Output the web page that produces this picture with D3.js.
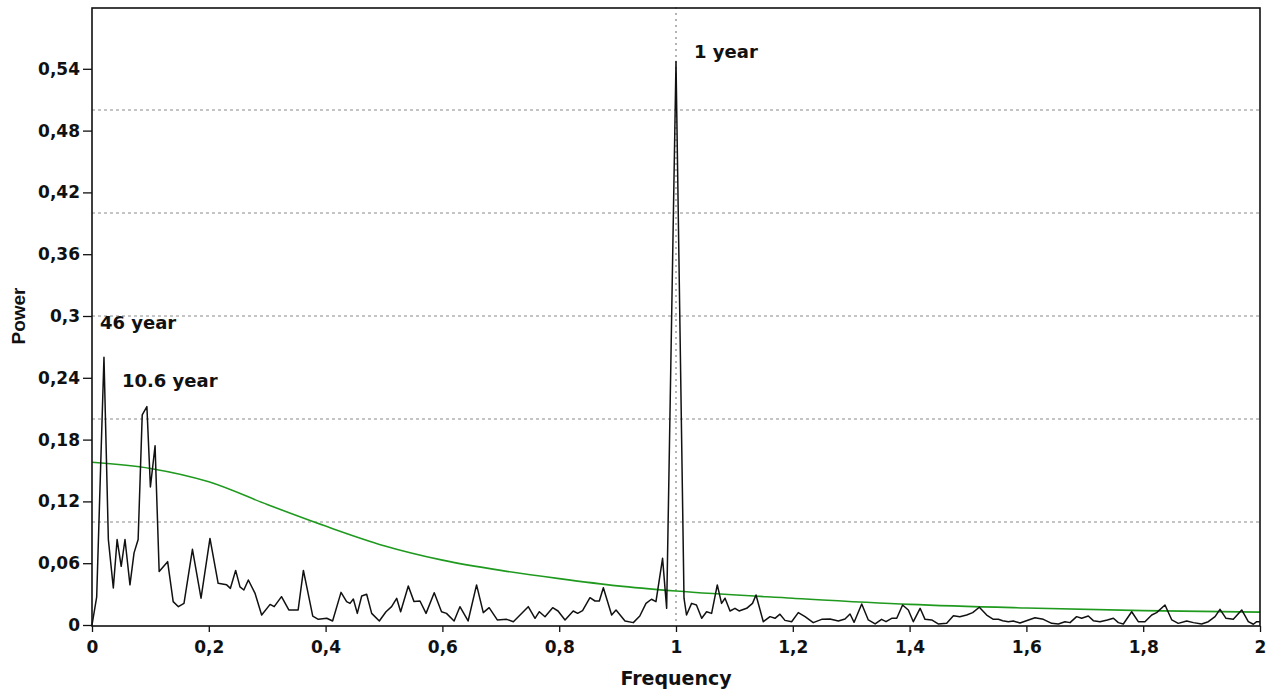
<!DOCTYPE html>
<html>
<head>
<meta charset="utf-8">
<script src="https://cdn.jsdelivr.net/npm/d3@7"></script>
<style>
  body { margin: 0; background: #fff; }
  text { font-family: "DejaVu Sans", sans-serif; font-weight: bold; fill: #111; }
</style>
</head>
<body>
<div id="chart"></div>
<script>
// periodogram (frequency in cycles per year)
const freq = [
  0, 0.008, 0.0205, 0.028, 0.0365, 0.043, 0.050, 0.0565, 0.065, 0.072,
  0.079, 0.086, 0.094, 0.100, 0.108, 0.115, 0.1295, 0.139, 0.148, 0.1575,
  0.172, 0.1867, 0.202, 0.216, 0.2306, 0.237, 0.246, 0.2534, 0.260, 0.2677,
  0.279, 0.2905, 0.305, 0.312, 0.3245, 0.337, 0.353, 0.362, 0.378, 0.3875,
  0.402, 0.412, 0.4264, 0.436, 0.4418, 0.4475, 0.4543, 0.4618, 0.4703, 0.4789,
  0.492, 0.5034, 0.513, 0.5217, 0.5285, 0.5416, 0.5514, 0.5616, 0.572, 0.586,
  0.5985, 0.607, 0.620, 0.630, 0.644, 0.6585, 0.670, 0.680, 0.694, 0.710,
  0.7215, 0.733, 0.747, 0.7586, 0.766, 0.7757, 0.7888, 0.798, 0.810, 0.824,
  0.8316, 0.840, 0.8527, 0.8613, 0.8687, 0.8756, 0.8898, 0.8973, 0.9127, 0.9269,
  0.938, 0.9486, 0.958, 0.9657, 0.977, 0.984, 1.0, 1.0137, 1.018, 1.0267,
  1.035, 1.044, 1.0524, 1.061, 1.0707, 1.078, 1.084, 1.0925, 1.101, 1.108,
  1.121, 1.131, 1.137, 1.1495, 1.161, 1.1695, 1.178, 1.1866, 1.198, 1.2094,
  1.221, 1.235, 1.2494, 1.2637, 1.278, 1.2894, 1.298, 1.305, 1.318, 1.3293,
  1.341, 1.352, 1.3596, 1.3693, 1.378, 1.388, 1.3978, 1.4064, 1.418, 1.4264,
  1.4378, 1.449, 1.4635, 1.475, 1.486, 1.4977, 1.508, 1.5194, 1.532, 1.5434,
  1.552, 1.5594, 1.569, 1.5776, 1.589, 1.6, 1.6147, 1.629, 1.6433, 1.6547,
  1.666, 1.6747, 1.686, 1.6946, 1.706, 1.7146, 1.726, 1.7386, 1.749, 1.7574,
  1.766, 1.7803, 1.7916, 1.803, 1.8146, 1.823, 1.8373, 1.849, 1.860, 1.8745,
  1.886, 1.900, 1.9115, 1.923, 1.9315, 1.9418, 1.9543, 1.9687, 1.98, 1.9886,
  1.9943, 2.0
];
const power = [
  0, 0.027, 0.26, 0.083, 0.036, 0.083, 0.057, 0.083, 0.039, 0.070,
  0.083, 0.204, 0.212, 0.134, 0.174, 0.052, 0.0615, 0.0227, 0.0178, 0.021,
  0.0735, 0.026, 0.084, 0.0405, 0.039, 0.0356, 0.053, 0.037, 0.034, 0.0437,
  0.031, 0.0097, 0.020, 0.0178, 0.0275, 0.0146, 0.0146, 0.053, 0.0087, 0.0055,
  0.0065, 0.0039, 0.0317, 0.0227, 0.021, 0.0252, 0.0113, 0.0282, 0.0298, 0.0113,
  0.0039, 0.0129, 0.0178, 0.0259, 0.0129, 0.0379, 0.0227, 0.0233, 0.0113, 0.0314,
  0.0129, 0.0113, 0.0039, 0.0178, 0.0039, 0.0389, 0.012, 0.0168, 0.0049, 0.0055,
  0.0032, 0.0097, 0.0178, 0.0065, 0.0129, 0.008, 0.0168, 0.0136, 0.0049, 0.0136,
  0.0113, 0.0139, 0.0265, 0.0233, 0.0233, 0.0362, 0.0097, 0.0146, 0.0039, 0.0023,
  0.0087, 0.021, 0.025, 0.0227, 0.0647, 0.0162, 0.547, 0.026, 0.0097, 0.021,
  0.0194, 0.0065, 0.0129, 0.0113, 0.0389, 0.021, 0.026, 0.0136, 0.0162, 0.0136,
  0.0162, 0.021, 0.0291, 0.0032, 0.0081, 0.0065, 0.0105, 0.0045, 0.0032, 0.012,
  0.0081, 0.0023, 0.0055, 0.0058, 0.0039, 0.0058, 0.0107, 0.0026, 0.0204, 0.0049,
  0.001, 0.0055, 0.0032, 0.0065, 0.0065, 0.0194, 0.0146, 0.0032, 0.0162, 0.0055,
  0.0049, 0.001, 0.0016, 0.009, 0.0081, 0.0097, 0.012, 0.0172, 0.0097, 0.0055,
  0.0055, 0.0042, 0.0032, 0.0039, 0.0019, 0.0042, 0.0071, 0.0055, 0.0016, 0.001,
  0.0032, 0.0023, 0.0081, 0.0065, 0.0087, 0.0042, 0.0032, 0.0049, 0.0065, 0.0023,
  0.001, 0.0129, 0.0032, 0.0032, 0.0097, 0.012, 0.0194, 0.0049, 0.0016, 0.0039,
  0.0023, 0.001, 0.0032, 0.0081, 0.0152, 0.0065, 0.0055, 0.0146, 0.0032, 0.0007,
  0.0032, 0.0032
];

// red-noise background (green curve)
const noiseFreq = [0, 0.1, 0.2, 0.3, 0.4, 0.5, 0.6, 0.7, 0.8, 0.9, 1.0, 1.2, 1.4, 1.6, 1.8, 2.0];
const noisePower = [0.158, 0.152, 0.139, 0.117, 0.096, 0.077, 0.063, 0.053, 0.045, 0.038, 0.033, 0.026, 0.020, 0.0165, 0.014, 0.0125];

const yTicks = [0, 0.06, 0.12, 0.18, 0.24, 0.3, 0.36, 0.42, 0.48, 0.54];
const xTicks = [0, 0.2, 0.4, 0.6, 0.8, 1, 1.2, 1.4, 1.6, 1.8, 2];
const gridLines = [0.1, 0.2, 0.3, 0.4, 0.5];
const peakNames = ["46 year", "10.6 year", "1 year"];
const peakFreq = [0.0205, 0.094, 1.0];
const peakPower = [0.26, 0.212, 0.547];

const W = 1272, H = 690;
const plotL = 92, plotR = 1260, plotT = 7, plotB = 625;

const x = d3.scaleLinear().domain([0, 2]).range([plotL, plotR]);
const y = d3.scaleLinear().domain([0, 0.6]).range([plotB, plotT]);

const comma = d => d === 0 ? "0" : String(+d.toFixed(2)).replace(".", ",");

const svg = d3.select("#chart").append("svg")
  .attr("width", W)
  .attr("height", H);

// horizontal dashed grid
svg.append("g")
  .selectAll("line")
  .data(gridLines)
  .enter().append("line")
  .attr("x1", plotL).attr("x2", plotR)
  .attr("y1", d => y(d)).attr("y2", d => y(d))
  .attr("stroke", "#8a8a8a")
  .attr("stroke-width", 1)
  .attr("stroke-dasharray", "3,3");

// dotted line at 1 cycle/year
svg.append("line")
  .attr("x1", x(1)).attr("x2", x(1))
  .attr("y1", plotT).attr("y2", plotB)
  .attr("stroke", "#b4b4b4")
  .attr("stroke-width", 2)
  .attr("stroke-dasharray", "2,4");

// red noise curve
svg.append("path")
  .datum(d3.zip(noiseFreq, noisePower))
  .attr("fill", "none")
  .attr("stroke", "#1f9a1f")
  .attr("stroke-width", 1.6)
  .attr("d", d3.line().x(d => x(d[0])).y(d => y(d[1])).curve(d3.curveMonotoneX));

// spectrum
svg.append("path")
  .datum(d3.zip(freq, power))
  .attr("fill", "none")
  .attr("stroke", "#111")
  .attr("stroke-width", 1.5)
  .attr("stroke-linejoin", "round")
  .attr("d", d3.line().x(d => x(d[0])).y(d => y(d[1])));

// axes
const yAxis = svg.append("g")
  .attr("transform", "translate(" + plotL + ",0)")
  .call(d3.axisLeft(y).tickValues(yTicks).tickSize(9).tickPadding(3).tickFormat(comma));

const xAxis = svg.append("g")
  .attr("transform", "translate(0," + (plotB + 1) + ")")
  .call(d3.axisBottom(x).tickValues(xTicks).tickSize(6).tickPadding(9).tickFormat(comma));

[yAxis, xAxis].forEach(function (g) {
  g.select(".domain").remove();
  g.selectAll(".tick line").attr("stroke", "#111").attr("stroke-width", 1.3);
  g.selectAll(".tick text")
    .attr("fill", "#111")
    .style("font-size", "17px")
    .style("font-family", "DejaVu Sans")
    .style("font-weight", "bold");
});

// frame
svg.append("rect")
  .attr("x", plotL).attr("y", plotT + 1)
  .attr("width", plotR - plotL).attr("height", plotB - plotT)
  .attr("fill", "none")
  .attr("stroke", "#111")
  .attr("stroke-width", 1.6);

// axis titles
svg.append("text")
  .attr("x", (plotL + plotR) / 2)
  .attr("y", 685)
  .attr("text-anchor", "middle")
  .style("font-size", "19px")
  .text("Frequency");

svg.append("text")
  .attr("transform", "translate(25," + ((plotT + plotB) / 2) + ")rotate(-90)")
  .attr("text-anchor", "middle")
  .style("font-family", "Liberation Sans")
  .style("font-size", "19px")
  .text("Power");

// peak annotations
const offX = [-4, -25, 18], offY = [-28, -20, -4];
svg.append("g")
  .selectAll("text")
  .data(peakNames)
  .enter().append("text")
  .attr("x", (d, i) => x(peakFreq[i]) + offX[i])
  .attr("y", (d, i) => y(peakPower[i]) + offY[i])
  .style("font-size", "18px")
  .text(d => d);
</script>
</body>
</html>
